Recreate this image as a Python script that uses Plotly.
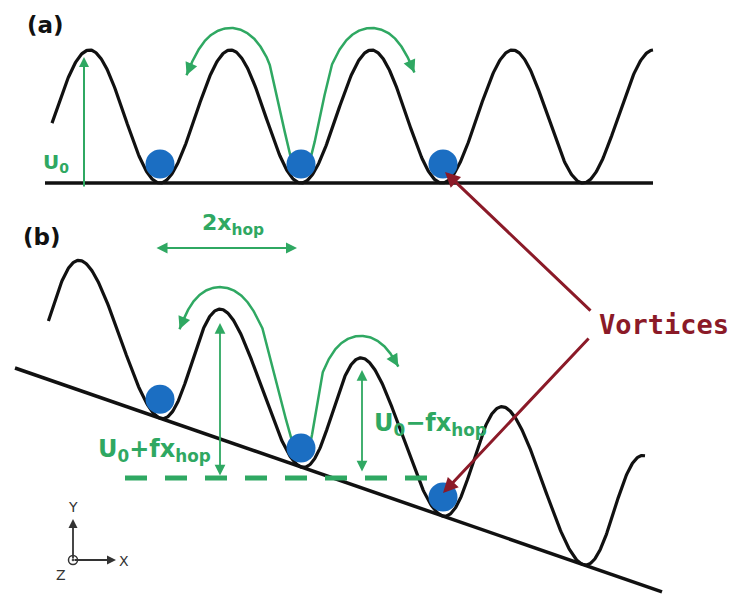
import numpy as np
import plotly.graph_objects as go

W, H = 733, 599

# Washboard pinning potential, drawn in pixel units of the canvas
well_x = [160, 301, 443, 583]          # well bottoms (vortex sites)
period = 141.0                          # well spacing = 2 x_hop
barrier = 133.0                         # U0
x_start, x_end = 52, 653

base_a = 183                            # flat reference line, panel (a)
tilt_x0, tilt_y0, tilt_x1 = 15, 368, 662
tilt_slope = 0.346                      # driving force f tilts panel (b)
shear = -0.06

vortex_wells = [0, 1, 2]                # wells occupied by a vortex

GREEN = "#2fa862"
BLUE = "#1b6ec2"
RED = "#8b1a28"
BLACK = "#111111"


def height(x):
    return barrier * (1 - np.cos(2 * np.pi * (x - well_x[0]) / period)) / 2


def curve_a(x):
    x = np.asarray(x, float)
    return x, base_a - height(x)


def tilt_line(x):
    return tilt_y0 + tilt_slope * (np.asarray(x, float) - tilt_x0)


def curve_b(x):
    x = np.asarray(x, float)
    h = height(x)
    return x + shear * h, tilt_line(x) - h


def hop_path(curve, p0, p1, d0, d1, n=300):
    """Curve running parallel to the potential, offset above it,
    starting at parameter p0 and ending (arrowhead side) at p1."""
    lo, hi = sorted((p0, p1))
    p = np.linspace(lo, hi, n)
    X, Y = curve(p)
    dx, dy = np.gradient(X), np.gradient(Y)
    N = np.hypot(dx, dy)
    nx, ny = dy / N, -dx / N            # upward normal (screen y points down)
    if p1 < p0:
        X, Y, nx, ny = X[::-1], Y[::-1], nx[::-1], ny[::-1]
    t = np.linspace(0, 1, n)
    d = d0 + (d1 - d0) * np.minimum(1, t / 0.45)
    return X + d * nx, Y + d * ny


fig = go.Figure()
annotations = []


def arrow(x0, y0, x1, y1, color, width=2.2, both=False, size=1.0, head=2):
    annotations.append(dict(
        x=x1, y=y1, ax=x0, ay=y0, xref="x", yref="y", axref="x", ayref="y",
        text="", showarrow=True, arrowhead=head, startarrowhead=head,
        arrowside="end+start" if both else "end",
        arrowsize=size, startarrowsize=size,
        arrowwidth=width, arrowcolor=color, standoff=0, startstandoff=0))


def label(x, y, text, color, size, family="DejaVu Sans", anchor="left"):
    annotations.append(dict(
        x=x, y=y, xref="x", yref="y", text=text, showarrow=False,
        xanchor=anchor, yanchor="middle",
        font=dict(family=family, size=size, color=color)))


def hop_arrow(curve, p0, p1, d0=9, d1=22):
    hx, hy = hop_path(curve, p0, p1, d0, d1)
    fig.add_trace(go.Scatter(x=hx, y=hy, mode="lines",
                             line=dict(color=GREEN, width=2.5)))
    dist = np.hypot(hx - hx[-1], hy - hy[-1])
    k = np.nonzero(dist > 14)[0][-1]
    arrow(hx[k], hy[k], hx[-1], hy[-1], GREEN, width=2.5, size=1.0)


xs = np.linspace(x_start, x_end, 800)

# ---------- panel (a): flat washboard ----------
fig.add_trace(go.Scatter(x=[45, 653], y=[base_a, base_a], mode="lines",
                         line=dict(color=BLACK, width=3.5)))
xa, ya = curve_a(xs)
fig.add_trace(go.Scatter(x=xa, y=ya, mode="lines",
                         line=dict(color=BLACK, width=3.2)))

# hop arrows over the neighbouring barriers
hop_arrow(curve_a, 283, 207)
hop_arrow(curve_a, 318, 394)

bx, by = curve_a([well_x[i] for i in vortex_wells])
fig.add_trace(go.Scatter(x=bx, y=by - 19, mode="markers",
                         marker=dict(color=BLUE, size=29)))

arrow(84, 188, 84, 57, GREEN, width=2)
label(41, 163, "<b>U<sub>0</sub></b>", GREEN, 20)
label(25, 25, "<b>(a)</b>", BLACK, 23)

# ---------- panel (b): tilted washboard ----------
fig.add_trace(go.Scatter(x=[tilt_x0, tilt_x1], y=tilt_line([tilt_x0, tilt_x1]),
                         mode="lines", line=dict(color=BLACK, width=3.5)))
xb, yb = curve_b(xs)
fig.add_trace(go.Scatter(x=xb, y=yb, mode="lines",
                         line=dict(color=BLACK, width=3.2)))

hop_arrow(curve_b, 285, 206)
hop_arrow(curve_b, 318, 386)

bx, by = curve_b([well_x[i] for i in vortex_wells])
fig.add_trace(go.Scatter(x=bx, y=by - 19, mode="markers",
                         marker=dict(color=BLUE, size=29)))

# reference level and barrier heights
fig.add_trace(go.Scatter(x=[125, 432], y=[478, 478], mode="lines",
                         line=dict(color=GREEN, width=5, dash="22px,18px")))
arrow(220, 477, 220, 323, GREEN, width=1.8, both=True, size=1.2)
arrow(362, 473, 362, 370, GREEN, width=1.8, both=True, size=1.2)
arrow(155, 248, 297, 248, GREEN, width=2.2, both=True, size=1.0)

label(233, 224, "<b>2x<sub>hop</sub></b>", GREEN, 22, anchor="center")
label(96, 450, "<b>U<sub>0</sub>+fx<sub>hop</sub></b>", GREEN, 24)
label(372, 424, "<b>U<sub>0</sub>−fx<sub>hop</sub></b>", GREEN, 24)
label(21, 237, "<b>(b)</b>", BLACK, 23)

# ---------- vortex pointers ----------
arrow(592, 312, 445, 172, RED, width=3, size=1.0)
arrow(590, 337, 443, 493, RED, width=3, size=1.0)
label(597, 324, "<b>Vortices</b>", RED, 27, family="DejaVu Sans Mono")

# ---------- coordinate triad ----------
arrow(73, 560, 73, 519, "#333333", width=1.8, size=1.0)
arrow(73, 560, 116, 560, "#333333", width=1.8, size=1.0)
fig.add_trace(go.Scatter(x=[73], y=[560], mode="markers",
                         marker=dict(symbol="circle-open-dot", size=9,
                                     color="#333333", line=dict(width=1.5))))
label(73, 507, "Y", "#333333", 14, anchor="center")
label(124, 561, "X", "#333333", 14, anchor="center")
label(61, 575, "Z", "#333333", 14, anchor="center")

fig.update_layout(
    width=W, height=H, autosize=False,
    margin=dict(l=0, r=0, t=0, b=0),
    paper_bgcolor="white", plot_bgcolor="white",
    showlegend=False, annotations=annotations,
    xaxis=dict(range=[0, W], visible=False, fixedrange=True),
    yaxis=dict(range=[H, 0], visible=False, fixedrange=True),
)

fig.write_html("out.html")
